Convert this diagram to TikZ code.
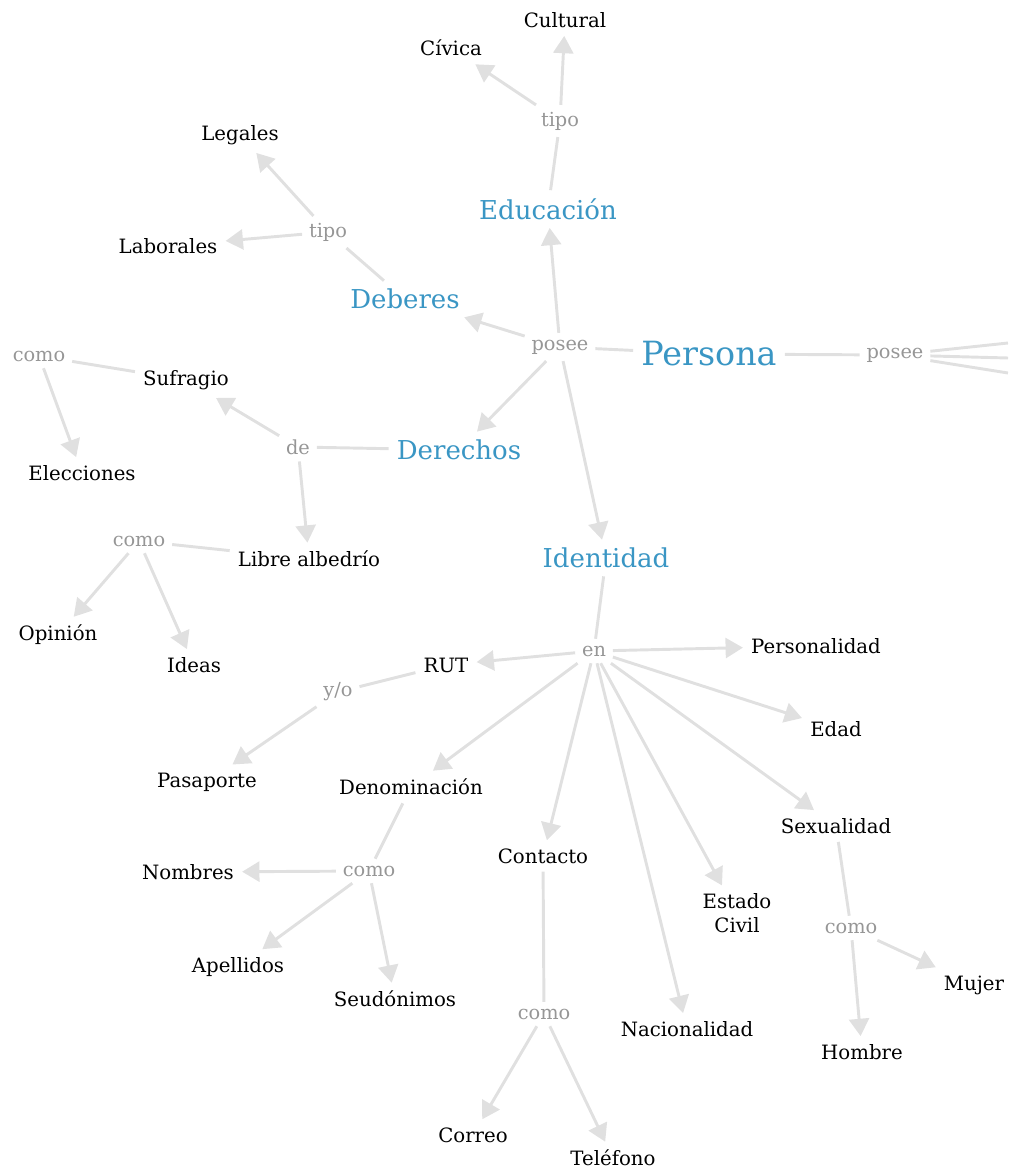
\documentclass[tikz,border=0pt]{standalone}
\usepackage{fontspec}
\setmainfont{DejaVu Serif}
\usetikzlibrary{arrows.meta}
\definecolor{conceptblue}{RGB}{58,150,196}
\definecolor{linkgray}{RGB}{150,150,150}
\definecolor{edgegray}{RGB}{224,224,224}

\begin{document}
\begin{tikzpicture}[x=0.75pt,y=-0.75pt,>={Triangle[length=13pt,width=15pt]},auto,
	concept/.style={text=conceptblue,font=\fontsize{19.5}{22}\selectfont,inner sep=6pt},
	link/.style={text=linkgray,font=\fontsize{14.5}{17}\selectfont,inner sep=5pt},
	item/.style={text=black,font=\fontsize{14.8}{17.5}\selectfont,inner sep=6pt,align=center},
	every edge/.style={draw=edgegray,line width=2.2pt}]

\useasboundingbox (0,0) rectangle (1008,1170);

\node[concept,font=\fontsize{25}{29}\selectfont] (persona) at (709,354) {Persona};
 \node[concept] (educacion) at (548,209) {Educación};
 \node[concept] (deberes) at (405,299) {Deberes};
 \node[concept] (derechos) at (459,450) {Derechos};
 \node[concept] (identidad) at (606,558) {Identidad};

	\node[link] (posee1) at (560,347) {posee};
	\node[link] (posee2) at (895,355) {posee};
	\node[link] (tipo1) at (560,121) {tipo};
	\node[link] (tipo2) at (328,232) {tipo};
	\node[link] (de) at (298,447) {de};
	\node[link] (como1) at (39,356) {como};
	\node[link] (como2) at (139,541) {como};
	\node[link] (en) at (594,651) {en};
	\node[link] (yo) at (338,692) {y/o};
	\node[link] (como3) at (369,871) {como};
	\node[link] (como4) at (544,1014) {como};
	\node[link] (como5) at (851,928) {como};

\node[item] (cultural) at (565,20) {Cultural};
\node[item] (civica) at (451,48) {Cívica};
\node[item] (legales) at (240,135) {Legales};
\node[item] (laborales) at (168,246) {Laborales};
\node[item] (sufragio) at (186,380) {Sufragio};
\node[item] (elecciones) at (82,473) {Elecciones};
\node[item] (libre) at (309,559) {Libre albedrío};
\node[item] (opinion) at (58,635) {Opinión};
\node[item] (ideas) at (194,665) {Ideas};
\node[item] (rut) at (446,665) {RUT};
\node[item] (personalidad) at (816,646) {Personalidad};
\node[item] (edad) at (836,729) {Edad};
\node[item] (pasaporte) at (207,782) {Pasaporte};
\node[item] (denominacion) at (411,787) {Denominación};
\node[item] (sexualidad) at (836,826) {Sexualidad};
\node[item] (contacto) at (543,856) {Contacto};
\node[item] (nombres) at (188,872) {Nombres};
\node[item] (civil) at (737,913) {Estado\\Civil};
\node[item] (apellidos) at (238,967) {Apellidos};
\node[item] (seudonimos) at (395,999) {Seudónimos};
\node[item] (mujer) at (974,985) {Mujer};
\node[item] (nacionalidad) at (687,1029) {Nacionalidad};
\node[item] (hombre) at (862,1052) {Hombre};
\node[item] (correo) at (473,1135) {Correo};
\node[item] (telefono) at (613,1158) {Teléfono};

% salen del borde derecho
\coordinate (r1) at (1008,343);
\coordinate (r2) at (1008,358);
\coordinate (r3) at (1008,373);

	\path[->] (persona) edge[-] (posee1)
						edge[-] (posee2)
			(posee2) edge[-] (r1)
					edge[-] (r2)
					edge[-] (r3)
			(posee1) edge (educacion)
					edge (deberes)
					edge (derechos)
					edge (identidad)
			(educacion) edge[-] (tipo1)
			(tipo1) edge (cultural)
					edge (civica)
			(deberes) edge[-] (tipo2)
			(tipo2) edge (legales)
					edge (laborales)
			(derechos) edge[-] (de)
			(de) edge (sufragio)
				edge (libre)
			(sufragio) edge[-] (como1)
			(como1) edge (elecciones)
			(libre) edge[-] (como2)
			(como2) edge (opinion)
					edge (ideas)
			(identidad) edge[-] (en)
			(en) edge (rut)
				edge (personalidad)
				edge (edad)
				edge (sexualidad)
				edge (civil)
				edge (nacionalidad)
				edge (contacto)
				edge (denominacion)
			(rut) edge[-] (yo)
			(yo) edge (pasaporte)
			(denominacion) edge[-] (como3)
			(como3) edge (nombres)
					edge (apellidos)
					edge (seudonimos)
			(contacto) edge[-] (como4)
			(como4) edge (correo)
					edge (telefono)
			(sexualidad) edge[-] (como5)
			(como5) edge (mujer)
					edge (hombre);

\end{tikzpicture}
\end{document}
